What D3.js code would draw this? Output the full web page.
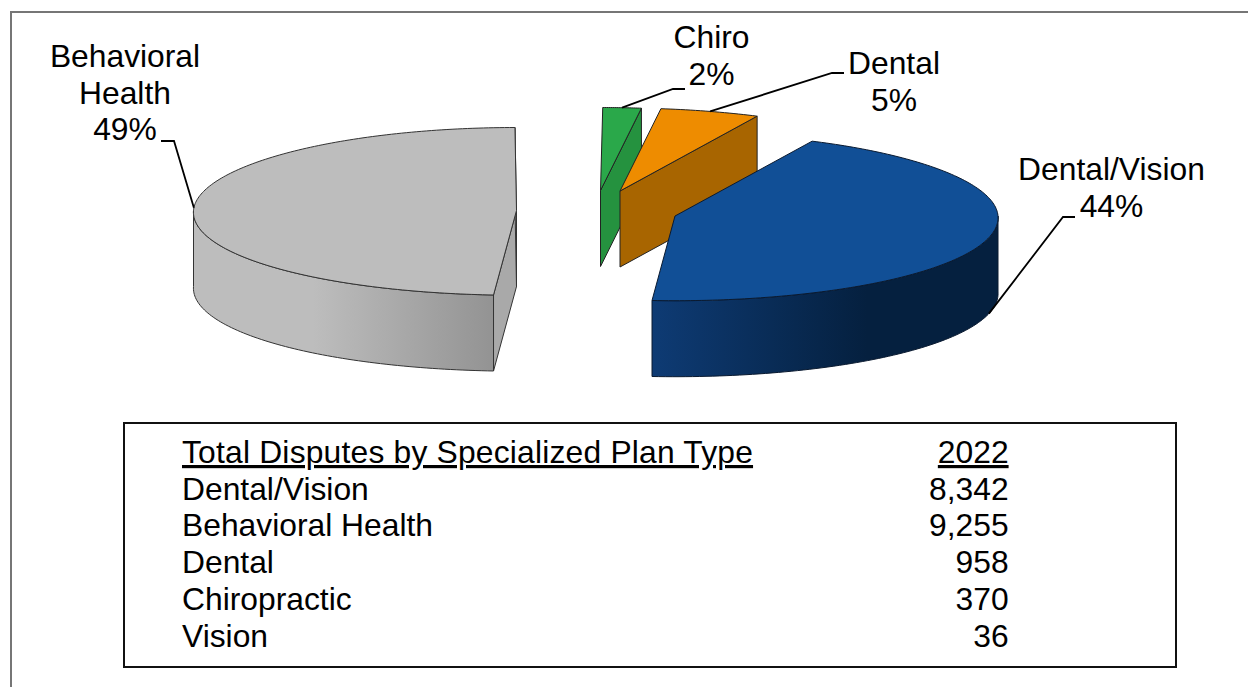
<!DOCTYPE html>
<html><head><meta charset="utf-8">
<script src="https://d3js.org/d3.v7.min.js"></script>
<style>
html,body{margin:0;padding:0;background:#fff;overflow:hidden}
svg{display:block}
text{font-family:"Liberation Sans",Arial,sans-serif;font-size:31.8px;fill:#000}
</style></head><body>
<svg id="c" width="1248" height="687"></svg>
<script>
// DATA
const categories = ["Dental/Vision","Behavioral Health","Dental","Chiropractic","Vision"];
const values = [8342,9255,958,370,36];
const tableTitle = "Total Disputes by Specialized Plan Type";
const tableYear = "2022";
const tableValueLabels = ["8,342","9,255","958","370","36"];
// pie order, clockwise from the first slice
const pieOrder = ["Behavioral Health","Vision","Chiropractic","Dental","Dental/Vision"];
const labelLines = {"Behavioral Health":["Behavioral","Health"],"Chiropractic":["Chiro"],"Dental":["Dental"],"Dental/Vision":["Dental/Vision"]};

// STYLE / LAYOUT
const colors = {
 "Behavioral Health":{top:"#bdbdbd",wallA:"#bdbdbd",wallB:"#939393",cut:"#a9a9a9",edge:"#333"},
 "Chiropractic":{top:"#2aa84a",wallA:"#25923f",wallB:"#25923f",cut:"#25923f",edge:"#222"},
 "Dental":{top:"#ee8c00",wallA:"#a86500",wallB:"#a86500",cut:"#a86500",edge:"#222"},
 "Dental/Vision":{top:"#114f96",wallA:"#0e3b74",wallB:"#05203f",cut:"#0e3b74",edge:"#0a1a30"}
};
const rx=323, ryFar=83, ryNear=84.7, depth=76, persp=0.02;
const centers={
 "Behavioral Health":[516.5,210.5],
 "Chiropractic":[600.5,190.5],
 "Dental":[620,191],
 "Dental/Vision":[675,216]
};
const labelPos={
 "Behavioral Health":{x:125,y:67,elbow:[174,141],tail:161,onBottom:false},
 "Chiropractic":{x:711.5,y:48,elbow:[673,89],tail:685,onBottom:false},
 "Dental":{x:894,y:74,elbow:[832,73],tail:844,onBottom:false},
 "Dental/Vision":{x:1111.5,y:180,elbow:[1063,217],tail:1075,onBottom:true}
};
const lineGap=36.6;

const svg=d3.select("#c");
const defs=svg.append("defs");
svg.append("path").attr("d","M11,687V12H1248").attr("fill","none").attr("stroke","#767676").attr("stroke-width",2);

const total=d3.sum(values);
const valueOf=c=>values[categories.indexOf(c)];
const start=184*Math.PI/180;
const arcs=d3.pie().sort(null).value(valueOf).startAngle(start).endAngle(start+2*Math.PI)(pieOrder);
const byName=Object.fromEntries(arcs.map(a=>[a.data,a]));
const ptAt=(name,ang,dy=0)=>{
  const c=centers[name],co=Math.cos(ang);
  return [c[0]+rx*Math.sin(ang)*(1-persp*co), c[1]-(co>0?ryFar:ryNear)*co+dy];
};
const line=d3.line();
const sample=(f,t,n)=>d3.range(n+1).map(i=>f+(t-f)*i/n);

function drawSlice(name){
  const a=byName[name],c=colors[name],ctr=centers[name];
  const g=svg.append("g");
  const s=a.startAngle,e=a.endAngle;
  const strokeOpts=sel=>sel.attr("stroke",c.edge).attr("stroke-width",1).attr("stroke-linejoin","round");
  const faces=[s,e].map(t=>{
    const p=ptAt(name,t);
    return {pts:[ctr,p,[p[0],p[1]+depth],[ctr[0],ctr[1]+depth]]};
  });
  // radial cut faces that turn toward the viewer
  const visible=[];
  if(Math.cos(s-0.01)<Math.cos(s)) visible.push(faces[0]);
  if(Math.cos(e+0.01)<Math.cos(e)) visible.push(faces[1]);
  // outer wall: rim angles between 90 and 270 degrees
  const lo=Math.PI/2,hi=3*Math.PI/2,ranges=[];
  for(const off of [-2*Math.PI,0,2*Math.PI]){
    const from=Math.max(s,lo+off),to=Math.min(e,hi+off);
    if(to>from) ranges.push([from,to]);
  }
  ranges.forEach(([f,t],i)=>{
    const n=sample(f,t,80);
    const tp=n.map(x=>ptAt(name,x));
    const bp=n.map(x=>ptAt(name,x,depth)).reverse();
    const id="w"+categories.indexOf(name)+"_"+i;
    const xs=tp.map(q=>q[0]);
    const grad=defs.append("linearGradient").attr("id",id).attr("gradientUnits","userSpaceOnUse")
      .attr("x1",d3.min(xs)).attr("x2",d3.max(xs)).attr("y1",0).attr("y2",0);
    const stops=name==="Dental/Vision"?[[0,c.wallA],[.62,c.wallB],[1,c.wallB]]:[[0,c.wallA],[.4,c.wallA],[1,c.wallB]];
    stops.forEach(([o,col])=>grad.append("stop").attr("offset",o).attr("stop-color",col));
    g.append("path").attr("d",line(tp.concat(bp))+"Z").attr("fill",`url(#${id})`).call(strokeOpts);
  });
  visible.forEach(f=>g.append("path").attr("d",line(f.pts)+"Z").attr("fill",c.cut).call(strokeOpts));
  // top face
  const rim=sample(s,e,Math.max(20,Math.round((e-s)*60))).map(x=>ptAt(name,x));
  g.append("path").attr("d",line([ctr].concat(rim))+"Z").attr("fill",c.top).call(strokeOpts);
}
// Vision is too thin to appear as a slice in the picture; it only takes up its angle
["Chiropractic","Dental","Behavioral Health","Dental/Vision"].forEach(drawSlice);

// labels and leaders
Object.entries(labelPos).forEach(([name,l])=>{
  const a=byName[name],mid=(a.startAngle+a.endAngle)/2;
  const end=ptAt(name,mid,l.onBottom?depth:0);
  svg.append("path").attr("d",line([[l.tail,l.elbow[1]],l.elbow,end])).attr("fill","none")
    .attr("stroke","#000").attr("stroke-width",1.8);
  const lines=labelLines[name].concat(d3.format(".0%")(valueOf(name)/total));
  lines.forEach((t,i)=>svg.append("text").attr("x",l.x).attr("y",l.y+i*lineGap).attr("text-anchor","middle").text(t));
});

// table
svg.append("rect").attr("x",124).attr("y",423).attr("width",1052).attr("height",244)
  .attr("fill","#fff").attr("stroke","#111").attr("stroke-width",2);
const rowY=d3.scaleLinear().domain([0,5]).range([463,646.5]);
svg.append("text").attr("x",182).attr("y",rowY(0)).attr("text-decoration","underline").attr("letter-spacing",0.2).text(tableTitle);
svg.append("text").attr("x",1008.6).attr("y",rowY(0)).attr("text-anchor","end").attr("text-decoration","underline").text(tableYear);
categories.forEach((c,i)=>{
  svg.append("text").attr("x",182).attr("y",rowY(i+1)).text(c);
  svg.append("text").attr("x",1008.6).attr("y",rowY(i+1)).attr("text-anchor","end").text(tableValueLabels[i]);
});
</script></body></html>
